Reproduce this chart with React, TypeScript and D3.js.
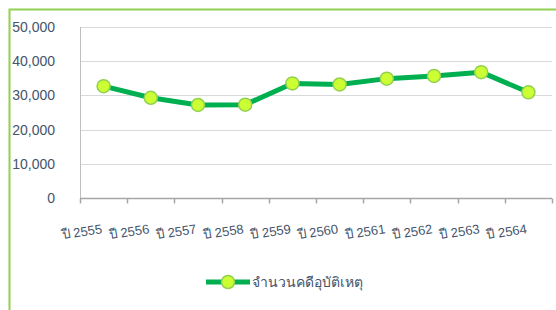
import React, { useEffect, useRef } from "react";
import * as d3 from "d3";

const years = ["ปี 2555", "ปี 2556", "ปี 2557", "ปี 2558", "ปี 2559", "ปี 2560", "ปี 2561", "ปี 2562", "ปี 2563", "ปี 2564"];
const cases = [32700, 29300, 27200, 27300, 33500, 33200, 34900, 35700, 36800, 30900];
const yTicks = [0, 10000, 20000, 30000, 40000, 50000];
const seriesName = "จำนวนคดีอุบัติเหตุ";

const width = 556;
const height = 310;
const margin = { top: 27, right: 4, bottom: 112, left: 80 };
const textColor = "#44546a";
const lineColor = "#00b050";
const markerFill = "#ccff33";
const markerStroke = "#92d050";
const font = "'Liberation Sans', Arial, sans-serif";

export default function App() {
  const ref = useRef<SVGSVGElement>(null);

  useEffect(() => {
    document.body.style.margin = "0";
    const svg = d3.select(ref.current);
    svg.selectAll("*").remove();

    // chart border
    svg
      .append("rect")
      .attr("x", 9.5)
      .attr("y", 9.5)
      .attr("width", width + 20)
      .attr("height", height + 20)
      .attr("fill", "white")
      .attr("stroke", markerStroke)
      .attr("stroke-width", 2);

    const x = d3
      .scaleBand()
      .domain(years)
      .range([margin.left, width - margin.right]);

    const y = d3
      .scaleLinear()
      .domain([0, 50000])
      .range([height - margin.bottom, margin.top]);

    // gridlines
    svg
      .append("g")
      .selectAll("line")
      .data(yTicks.filter((d) => d > 0))
      .join("line")
      .attr("x1", margin.left)
      .attr("x2", width - margin.right)
      .attr("y1", (d) => Math.round(y(d)) + 0.5)
      .attr("y2", (d) => Math.round(y(d)) + 0.5)
      .attr("stroke", "#d9d9d9")
      .attr("stroke-width", 1);

    // y axis line
    svg
      .append("line")
      .attr("x1", margin.left + 0.5)
      .attr("x2", margin.left + 0.5)
      .attr("y1", margin.top)
      .attr("y2", y(0))
      .attr("stroke", "#bfbfbf");

    // y labels
    svg
      .append("g")
      .selectAll("text")
      .data(yTicks)
      .join("text")
      .attr("x", 55)
      .attr("y", (d) => y(d))
      .attr("dy", "0.35em")
      .attr("text-anchor", "end")
      .attr("fill", textColor)
      .style("font-family", font)
      .style("font-size", "14px")
      .text((d) => d3.format(",")(d));

    // x axis
    const xAxis = svg
      .append("g")
      .attr("transform", `translate(0,${Math.round(y(0)) + 0.5})`);
    xAxis
      .append("line")
      .attr("x1", margin.left)
      .attr("x2", width - margin.right)
      .attr("stroke", "#a6a6a6")
      .attr("stroke-width", 1.5);
    const edges = years.map((d) => x(d) as number).concat([width - margin.right]);
    xAxis
      .selectAll("line.tick")
      .data(edges)
      .join("line")
      .attr("class", "tick")
      .attr("x1", (d) => Math.round(d) + 0.5)
      .attr("x2", (d) => Math.round(d) + 0.5)
      .attr("y1", 0)
      .attr("y2", 5)
      .attr("stroke", "#a6a6a6")
      .attr("stroke-width", 1.5);

    svg
      .append("g")
      .selectAll("text")
      .data(years)
      .join("text")
      .attr(
        "transform",
        (d) => `translate(${(x(d) as number) + x.bandwidth() / 2 - 1},${y(0) + 35}) rotate(-9)`
      )
      .attr("text-anchor", "end")
      .attr("fill", textColor)
      .style("font-family", font)
      .style("font-size", "13px")
      .text((d) => d);

    // line
    const line = d3
      .line<number>()
      .x((d, i) => (x(years[i]) as number) + x.bandwidth() / 2)
      .y((d) => y(d));

    svg
      .append("path")
      .datum(cases)
      .attr("d", line)
      .attr("fill", "none")
      .attr("stroke", lineColor)
      .attr("stroke-width", 5)
      .attr("stroke-linejoin", "round");

    svg
      .append("g")
      .selectAll("circle")
      .data(cases)
      .join("circle")
      .attr("cx", (d, i) => (x(years[i]) as number) + x.bandwidth() / 2)
      .attr("cy", (d) => y(d))
      .attr("r", 6.5)
      .attr("fill", markerFill)
      .attr("stroke", markerStroke)
      .attr("stroke-width", 1.5);

    // legend
    const legend = svg.append("g").attr("transform", "translate(206,282)");
    legend
      .append("line")
      .attr("x1", 0)
      .attr("x2", 44)
      .attr("stroke", lineColor)
      .attr("stroke-width", 5);
    legend
      .append("circle")
      .attr("cx", 22)
      .attr("r", 6.5)
      .attr("fill", markerFill)
      .attr("stroke", markerStroke)
      .attr("stroke-width", 1.5);
    legend
      .append("text")
      .attr("x", 46)
      .attr("dy", "0.35em")
      .attr("fill", textColor)
      .style("font-family", font)
      .style("font-size", "14px")
      .text(seriesName);
  }, []);

  return <svg ref={ref} width={width} height={height} style={{ display: "block" }} />;
}
